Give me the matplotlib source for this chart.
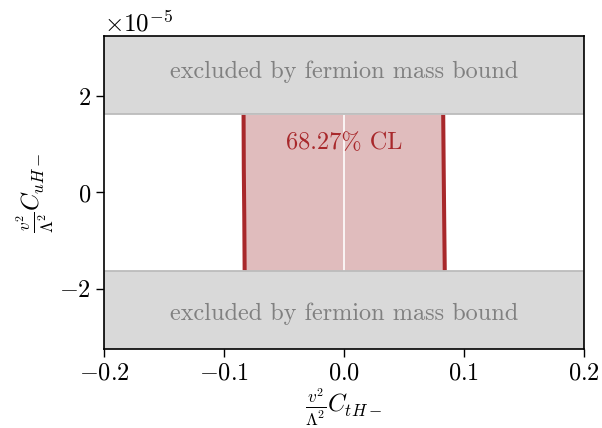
import numpy as np
import matplotlib
matplotlib.use("Agg")
import matplotlib.pyplot as plt

plt.rcParams["font.family"] = "serif"
plt.rcParams["font.serif"] = ["cmr10"]
plt.rcParams["mathtext.fontset"] = "cm"
plt.rcParams["axes.formatter.use_mathtext"] = True
plt.rcParams["axes.unicode_minus"] = True

# data (y in units of 1, axis shows x10^-5)
MASS_BOUND = 1.625e-5
Y_LIM = 3.26e-5
X_LIM = 0.2
edge_y = np.array([1.625e-5, 0.5e-5, -0.5e-5, -1.625e-5])
left_x = np.array([-0.0837, -0.0835, -0.0831, -0.0828])
right_x = np.array([0.0827, 0.0831, 0.0835, 0.0840])
x_ticks = [-0.2, -0.1, 0.0, 0.1, 0.2]
y_ticks = [-2e-5, 0, 2e-5]

RED = "#a8282b"
FILL = "#e0bcbd"
GRAY = "#d9d9d9"
FS = 17.5

fig = plt.figure(figsize=(6.02, 4.28), dpi=100)
ax = fig.add_axes([0.1728, 0.1846, 0.7972, 0.7313])

# 68% CL region
ax.fill_betweenx(edge_y, left_x, right_x, color=FILL, lw=0, zorder=1)
ax.axvline(0, color="white", lw=1.2, zorder=2)
ax.plot(left_x, edge_y, color=RED, lw=2.9, zorder=3, solid_capstyle="butt")
ax.plot(right_x, edge_y, color=RED, lw=2.9, zorder=3, solid_capstyle="butt")

# excluded bands
ax.axhspan(MASS_BOUND, Y_LIM * 1.1, facecolor=GRAY, edgecolor="#bcbcbc", lw=1.3, zorder=4)
ax.axhspan(-Y_LIM * 1.1, -MASS_BOUND, facecolor=GRAY, edgecolor="#bcbcbc", lw=1.3, zorder=4)

ax.text(0, 2.52e-5, "excluded by fermion mass bound", color="#808080",
        fontsize=FS, ha="center", va="center", zorder=5)
ax.text(0, -2.52e-5, "excluded by fermion mass bound", color="#808080",
        fontsize=FS, ha="center", va="center", zorder=5)
ax.text(0, 1.02e-5, "68.27% CL", color=RED, fontsize=FS,
        ha="center", va="center", zorder=5)

ax.set_xlim(-X_LIM, X_LIM)
ax.set_ylim(-Y_LIM, Y_LIM)
ax.set_xticks(x_ticks)
ax.set_yticks(y_ticks)
ax.ticklabel_format(axis="y", style="sci", scilimits=(0, 0))
ax.yaxis.get_offset_text().set_fontsize(18)
ax.tick_params(labelsize=FS, length=6, width=1, direction="out")
for s in ax.spines.values():
    s.set_linewidth(1.2)
    s.set_zorder(6)

ax.set_xlabel(r"$\frac{v^2}{\Lambda^2}C_{tH-}$", fontsize=FS, labelpad=2)
ax.set_ylabel(r"$\frac{v^2}{\Lambda^2}C_{uH-}$", fontsize=FS, labelpad=2)

fig.savefig("out.png", dpi=100)
